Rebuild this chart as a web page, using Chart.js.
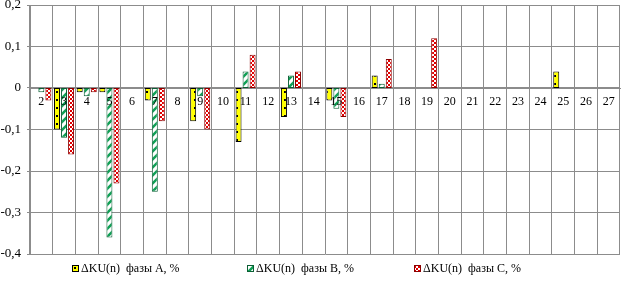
<!DOCTYPE html>
<html>
<head>
<meta charset="utf-8">
<script src="https://cdn.jsdelivr.net/npm/chart.js@4"></script>
<style>
  html, body { margin: 0; padding: 0; background: #fff; }
  #wrap { width: 621px; height: 281px; }
</style>
</head>
<body>
<div id="wrap"><canvas id="harmonics-chart"></canvas></div>
<script>
/* harmonic number along the x axis */
const harmonics = ['2', '3', '4', '5', '6', '7', '8', '9', '10', '11', '12', '13', '14',
  '15', '16', '17', '18', '19', '20', '21', '22', '23', '24', '25', '26', '27'];

/* delta KU(n), %, per phase (null = empty cell) */
const phaseA = [null, -0.10, -0.01, -0.01, null, -0.03, null, -0.08, null, -0.13, null, -0.07, null,
  -0.03, null, 0.03, null, null, null, null, null, null, null, 0.04, null, null];
const phaseB = [-0.01, -0.12, -0.02, -0.36, null, -0.25, null, -0.02, null, 0.04, null, 0.03, null,
  -0.05, null, 0.01, null, null, null, null, null, null, null, null, null, null];
const phaseC = [-0.03, -0.16, -0.01, -0.23, null, -0.08, null, -0.10, null, 0.08, null, 0.04, null,
  -0.07, null, 0.07, null, 0.12, null, null, null, null, null, null, null, null];

const seriesLabels = ['\u0394KU(n)  фазы A, %', '\u0394KU(n)  фазы B, %', '\u0394KU(n)  фазы C, %'];

const serif = "'Liberation Serif', 'Times New Roman', serif";

function makePattern(w, h, draw) {
  const c = document.createElement('canvas');
  c.width = w;
  c.height = h;
  const g = c.getContext('2d');
  draw(g);
  return g.createPattern(c, 'repeat');
}

/* yellow with black dots */
const dotsYellow = makePattern(6, 8, (g) => {
  g.fillStyle = '#ffff00';
  g.fillRect(0, 0, 6, 8);
  g.fillStyle = '#000';
  g.fillRect(2, 3, 2, 2);
});

/* green / white diagonal stripes */
const stripesGreen = makePattern(8, 8, (g) => {
  g.fillStyle = '#fff';
  g.fillRect(0, 0, 8, 8);
  g.strokeStyle = '#0fa055';
  g.lineWidth = 2.5;
  g.beginPath();
  g.moveTo(-4, 4); g.lineTo(4, -4);
  g.moveTo(0, 8); g.lineTo(8, 0);
  g.moveTo(4, 12); g.lineTo(12, 4);
  g.stroke();
});

/* red / white checkerboard */
const checkRed = makePattern(4, 4, (g) => {
  g.fillStyle = '#fff';
  g.fillRect(0, 0, 4, 4);
  g.fillStyle = '#e00000';
  g.fillRect(0, 0, 2, 2);
  g.fillRect(2, 2, 2, 2);
});

const data = {
  labels: harmonics,
  datasets: [
    { label: seriesLabels[0], data: phaseA, backgroundColor: dotsYellow, borderColor: '#000000' },
    { label: seriesLabels[1], data: phaseB, backgroundColor: stripesGreen, borderColor: '#0b5e34' },
    { label: seriesLabels[2], data: phaseC, backgroundColor: checkRed, borderColor: '#8b0000' },
  ],
};

/* legend spread out along the bottom like the original */
const bottomLegend = {
  id: 'bottomLegend',
  afterDraw(chart) {
    const ctx = chart.ctx;
    const starts = [0.116, 0.398, 0.667];
    const y = chart.height - 12;
    ctx.save();
    ctx.font = '12px ' + serif;
    ctx.textBaseline = 'middle';
    ctx.textAlign = 'left';
    chart.data.datasets.forEach((ds, i) => {
      const x = Math.round(chart.width * starts[i]);
      ctx.fillStyle = ds.backgroundColor;
      ctx.fillRect(x, y - 4, 7, 7);
      ctx.strokeStyle = ds.borderColor;
      ctx.lineWidth = 1;
      ctx.strokeRect(x + 0.5, y - 3.5, 6, 6);
      ctx.fillStyle = '#000';
      ctx.fillText(ds.label, x + 9, y);
    });
    ctx.restore();
  },
};

const config = {
  type: 'bar',
  data,
  plugins: [bottomLegend],
  options: {
    responsive: true,
    maintainAspectRatio: false,
    animation: false,
    layout: {
      padding: { top: 5, right: 1, bottom: 27, left: 0 },
    },
    datasets: {
      bar: {
        borderWidth: 1,
        borderSkipped: false,
        categoryPercentage: 0.93,
        barPercentage: 0.85,
      },
    },
    plugins: {
      legend: { display: false },
      tooltip: { enabled: false },
    },
    scales: {
      x: {
        position: { y: 0 },
        offset: true,
        afterFit: (scale) => { scale.paddingTop = 0; scale.paddingBottom = 0; scale.height = 0; },
        grid: {
          offset: true,
          color: '#8c8c8c',
          drawTicks: true,
          tickLength: 3,
        },
        border: { color: '#8c8c8c' },
        ticks: {
          z: 1,
          color: '#000',
          padding: 4,
          autoSkip: false,
          maxRotation: 0,
          font: { family: serif, size: 12 },
        },
      },
      y: {
        min: -0.4,
        max: 0.2,
        afterFit: (scale) => { scale.width = 30; scale.paddingTop = 0; scale.paddingBottom = 0; },
        grid: {
          color: '#8c8c8c',
          drawTicks: true,
          tickLength: 3,
        },
        border: { color: '#8c8c8c' },
        ticks: {
          stepSize: 0.1,
          color: '#000',
          padding: 6,
          font: { family: serif, size: 13 },
          callback: (v) => {
            const r = Math.round(v * 10) / 10;
            return r === 0 ? '0' : r.toFixed(1).replace('.', ',');
          },
        },
      },
    },
  },
};

new Chart(document.getElementById('harmonics-chart'), config);
</script>
</body>
</html>
